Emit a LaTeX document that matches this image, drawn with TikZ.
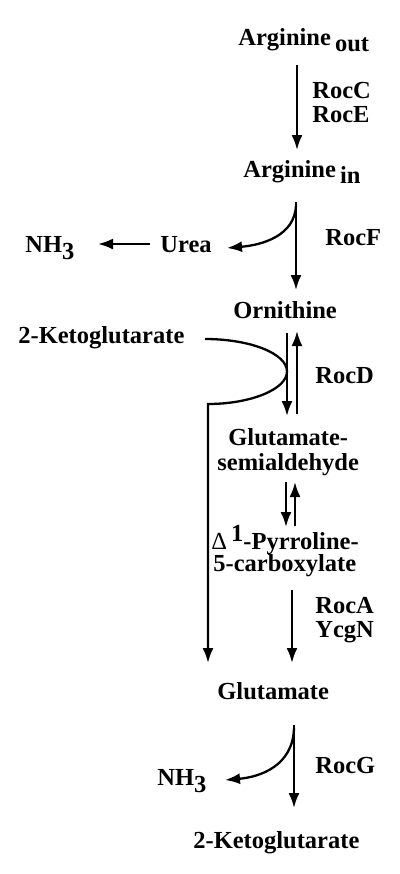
\documentclass[tikz,border=0pt]{standalone}
\usepackage{fontspec}
\setmainfont{Liberation Serif}
\usetikzlibrary{arrows.meta}
\begin{document}
\begin{tikzpicture}[x=0.5pt,y=-0.5pt,
  lbl/.style={anchor=base west,inner sep=0pt,font=\fontsize{12.25}{14}\selectfont\bfseries},
  arr/.style={line width=1.15pt,-{Latex[length=7.5pt,width=5.5pt]}}]
\useasboundingbox[fill=white] (0,0) rectangle (400,874);
\newcommand{\lowsub}[2]{\raisebox{-#1}{#2}}
% texts
\node[lbl] (argout) at (238,45) {Arginine\,\lowsub{3pt}{out}};
\node[lbl] (rocc) at (312,98) {RocC};
\node[lbl] (roce) at (312,122) {RocE};
\node[lbl] (argin) at (243,177) {Arginine\,\lowsub{3pt}{in}};
\node[lbl] (nh3a) at (25,252) {NH\lowsub{3.5pt}{3}};
\node[lbl] (urea) at (160,252) {Urea};
\node[lbl] (rocf) at (325,245) {RocF};
\node[lbl] (orn) at (233,318) {Ornithine};
\node[lbl] (kgin) at (18,343) {2-Ketoglutarate};
\node[lbl] (rocd) at (315,383) {RocD};
\node[lbl] (gsa1) at (228,445) {Glutamate-};
\node[lbl] (gsa2) at (217,470) {semialdehyde};
\node[lbl] (p5c1) at (211,549) {{\mdseries Δ}\,\raisebox{4pt}{1}-Pyrroline-};
\node[lbl] (p5c2) at (213,571) {5-carboxylate};
\node[lbl] (roca) at (315,613) {RocA};
\node[lbl] (ycgn) at (315,637) {YcgN};
\node[lbl] (glu) at (217,699) {Glutamate};
\node[lbl] (nh3b) at (157,785) {NH\lowsub{3.5pt}{3}};
\node[lbl] (rocg) at (315,773) {RocG};
\node[lbl] (kgout) at (193,848) {2-Ketoglutarate};
% coordinates
\coordinate (a1s) at (297,65);  \coordinate (a1e) at (297,150);
\coordinate (a2s) at (296,202); \coordinate (a2e) at (296,290);
\coordinate (b2s) at (296,205); \coordinate (b2e) at (227,248);
\coordinate (c1s) at (150,244); \coordinate (c1e) at (98,244);
\coordinate (d1s) at (287,333); \coordinate (d1e) at (287,416);
\coordinate (u1s) at (297,414); \coordinate (u1e) at (297,331);
\coordinate (k1s) at (205,339); \coordinate (k1m) at (287,371.5);
\coordinate (k1c) at (208,404); \coordinate (k1e) at (208,663);
\coordinate (d2s) at (286,482); \coordinate (d2e) at (286,527);
\coordinate (u2s) at (295,526); \coordinate (u2e) at (295,482);
\coordinate (a3s) at (292,590); \coordinate (a3e) at (292,663);
\coordinate (a4s) at (294,725); \coordinate (a4e) at (294,808);
\coordinate (b4s) at (294,728); \coordinate (b4e) at (225,780);
% connectors
\draw[arr] (a1s) -- (a1e);
\draw[arr] (a2s) -- (a2e);
\draw[arr] (b2s) .. controls (295,236) and (262,245) .. (b2e);
\draw[arr] (c1s) -- (c1e);
\draw[arr] (d1s) -- (d1e);
\draw[arr] (u1s) -- (u1e);
\draw[arr] (k1s) .. controls (250,339) and (287,353.5) .. (k1m)
  .. controls (287,389.5) and (250,404) .. (k1c) -- (k1e);
\draw[arr] (d2s) -- (d2e);
\draw[arr] (u2s) -- (u2e);
\draw[arr] (a3s) -- (a3e);
\draw[arr] (a4s) -- (a4e);
\draw[arr] (b4s) .. controls (293,766) and (260,777) .. (b4e);
\end{tikzpicture}
\end{document}
